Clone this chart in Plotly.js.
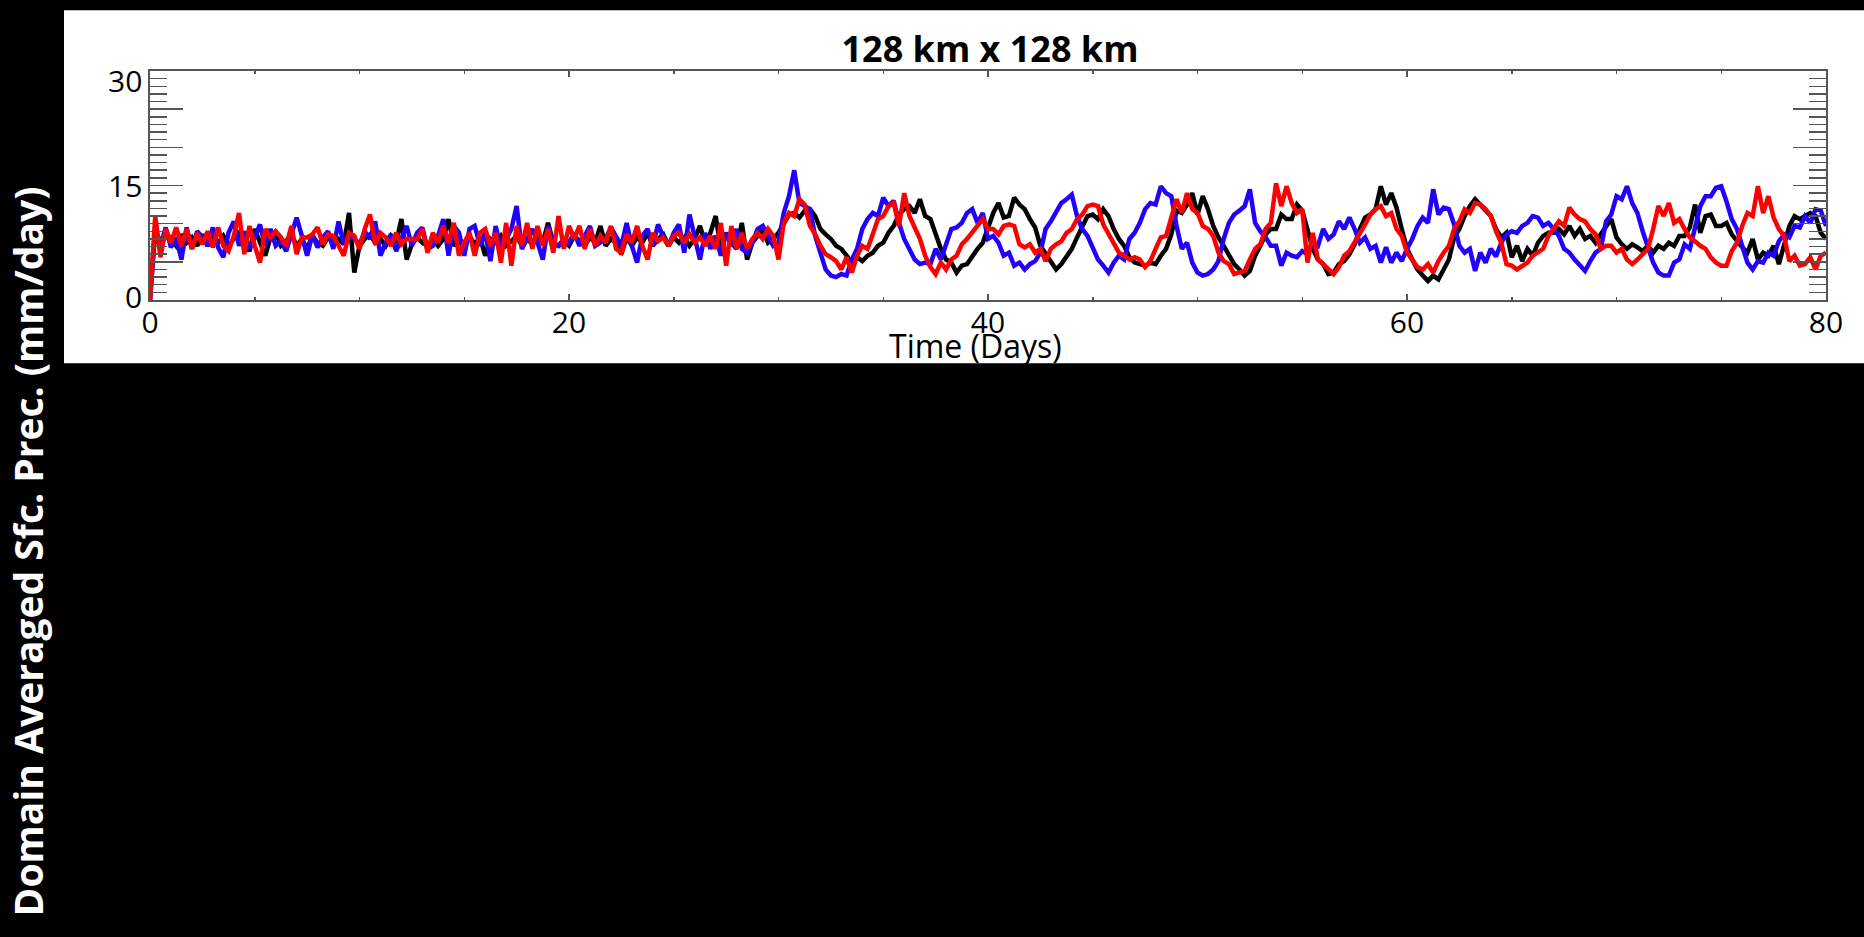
<!DOCTYPE html>
<html>
<head>
<meta charset="utf-8">
<script src="https://cdn.plot.ly/plotly-3.0.1.min.js"></script>
<style>
  html, body { margin: 0; padding: 0; background: #000; }
  #chart { width: 1864px; height: 937px; }
</style>
</head>
<body>
<div id="chart"></div>
<script>
// Sampling step of the series (days)
const STEP_DAYS = 0.25;

// Black run (one row per day: values at d, d+0.25, d+0.5, d+0.75)
const blackPrecip = [
  0, 9.3, 6.7, 8.8,
  8.0, 7.1, 8.6, 7.5,
  8.2, 7.1, 8.6, 7.1,
  8.2, 7.5, 8.4, 7.1,
  8.0, 8.8, 7.7, 6.4,
  9.3, 7.5, 5.8, 8.2,
  8.8, 7.1, 7.7, 8.6,
  7.1, 8.0, 6.7, 8.4,
  7.5, 7.1, 8.2, 7.5,
  8.0, 7.3, 11.4, 3.6,
  7.1, 8.0, 8.6, 7.5,
  8.0, 7.1, 8.4, 7.5,
  10.6, 5.3, 7.3, 8.2,
  7.5, 7.1, 8.0, 7.1,
  8.0, 10.6, 7.1, 8.0,
  6.7, 8.4, 7.3, 8.2,
  5.8, 8.0, 7.5, 8.4,
  7.1, 7.7, 8.4, 7.1,
  8.0, 7.3, 8.2, 7.5,
  10.1, 7.5, 7.1, 7.7,
  7.1, 8.4, 7.7, 7.1,
  8.2, 7.5, 9.7, 7.1,
  8.0, 7.5, 6.0, 8.2,
  7.1, 8.2, 7.5, 8.8,
  7.1, 8.0, 8.6, 7.1,
  8.2, 7.5, 8.2, 7.1,
  8.0, 9.7, 7.5, 8.8,
  11.0, 6.7, 8.8, 7.5,
  6.7, 10.1, 5.3, 7.5,
  8.4, 9.3, 7.5, 8.0,
  8.8, 10.1, 11.2, 11.4,
  10.8, 11.7, 11.9, 11.0,
  9.3, 8.6, 8.0, 7.1,
  6.7, 5.8, 4.9, 5.6,
  5.1, 5.8, 6.2, 7.1,
  7.5, 8.8, 9.7, 11.2,
  11.9, 12.3, 11.4, 13.2,
  11.0, 10.6, 8.6, 6.7,
  5.3, 4.9, 3.6, 4.5,
  4.7, 5.8, 6.7, 7.5,
  9.3, 11.4, 12.7, 10.8,
  11.0, 13.4, 12.5, 11.9,
  10.6, 9.5, 7.1, 6.0,
  5.1, 4.0, 4.7, 5.8,
  6.7, 8.2, 9.7, 11.0,
  11.2, 10.6, 11.9, 11.0,
  9.3, 8.0, 7.1, 5.6,
  4.9, 4.7, 4.5, 4.9,
  4.7, 5.8, 6.7, 8.6,
  11.7, 11.4, 12.5, 14.0,
  11.2, 13.6, 11.9, 9.7,
  8.2, 7.1, 5.8, 4.7,
  4.0, 3.2, 3.8, 5.8,
  7.1, 8.6, 9.3, 9.3,
  11.2, 10.6, 10.6, 12.5,
  11.7, 9.3, 6.7, 5.3,
  4.7, 3.4, 3.6, 4.7,
  5.1, 6.0, 7.3, 9.3,
  10.8, 11.2, 11.9, 14.9,
  12.5, 14.0, 12.1, 9.3,
  6.7, 5.3, 4.0, 3.2,
  2.5, 3.2, 2.7, 4.0,
  5.3, 8.2, 9.3, 11.0,
  12.3, 13.2, 12.5, 11.7,
  11.0, 9.3, 8.2, 8.8,
  5.6, 7.1, 5.1, 6.7,
  5.8, 7.5, 8.4, 8.8,
  8.8, 9.3, 8.6, 9.7,
  8.4, 9.3, 8.0, 8.4,
  7.5, 8.6, 9.7, 10.6,
  8.2, 7.3, 6.7, 7.3,
  6.9, 6.4, 7.1, 6.2,
  7.1, 6.7, 7.5, 7.1,
  8.4, 8.4, 9.5, 12.5,
  8.8, 11.0, 11.2, 9.7,
  9.7, 10.1, 8.6, 7.7,
  6.9, 6.2, 8.0, 5.3,
  6.2, 5.8, 7.1, 4.7,
  7.1, 9.7, 11.0, 10.6,
  11.0, 11.4, 11.0, 8.8,
  8.0
];

// Blue run
const bluePrecip = [
  0, 9.7, 7.1, 9.5,
  6.9, 8.2, 5.3, 9.5,
  6.7, 9.0, 8.2, 7.1,
  9.5, 6.9, 5.6, 8.8,
  10.3, 7.1, 9.0, 6.7,
  8.2, 9.9, 7.1, 9.3,
  7.1, 7.7, 6.4, 8.8,
  10.8, 8.4, 5.8, 8.6,
  6.9, 8.2, 9.0, 6.7,
  10.3, 7.3, 8.4, 8.0,
  7.3, 9.0, 8.0, 10.3,
  5.8, 7.5, 8.6, 6.4,
  8.0, 9.7, 7.1, 8.8,
  9.5, 6.7, 7.1, 8.4,
  10.6, 5.8, 9.7, 8.8,
  5.8, 9.3, 9.7, 7.1,
  8.8, 5.1, 9.7, 6.7,
  8.0, 9.3, 12.3, 6.7,
  8.0, 9.3, 7.5, 5.3,
  9.7, 7.3, 7.1, 8.0,
  7.5, 8.8, 7.1, 8.4,
  9.7, 7.1, 7.5, 8.0,
  9.5, 8.4, 7.1, 10.1,
  7.1, 4.9, 8.4, 9.3,
  7.1, 9.9, 8.2, 7.1,
  8.8, 9.9, 6.2, 11.2,
  8.0, 5.3, 8.8, 6.7,
  8.4, 5.8, 8.8, 7.1,
  9.3, 6.7, 6.2, 7.5,
  9.3, 9.7, 8.4, 7.1,
  7.5, 11.4, 13.6, 17.0,
  12.7, 12.3, 11.9, 8.4,
  6.2, 4.0, 3.2, 3.0,
  3.4, 3.2, 5.3, 6.7,
  9.3, 10.6, 11.4, 11.0,
  13.4, 12.3, 13.0, 10.1,
  8.0, 6.7, 5.3, 4.7,
  4.9, 4.7, 6.7, 5.3,
  7.1, 9.3, 9.5, 10.1,
  11.4, 11.9, 10.1, 11.4,
  8.0, 8.4, 7.5, 5.8,
  6.2, 4.5, 4.9, 4.0,
  4.7, 5.1, 6.2, 9.3,
  10.3, 11.4, 12.7, 13.2,
  13.8, 11.0, 9.3, 8.4,
  6.7, 5.3, 4.5, 3.6,
  4.9, 5.8, 5.3, 8.0,
  8.8, 10.1, 11.9, 12.7,
  12.5, 14.9, 14.0, 13.6,
  9.7, 6.7, 7.5, 4.9,
  3.6, 3.2, 3.4, 4.0,
  5.1, 8.0, 10.1, 11.2,
  11.7, 12.3, 14.5, 10.1,
  9.0, 8.2, 7.1, 7.1,
  4.5, 6.2, 5.8, 5.6,
  6.4, 6.0, 7.5, 7.1,
  9.3, 8.0, 8.6, 10.3,
  9.3, 10.8, 9.3, 7.5,
  8.2, 6.7, 7.1, 4.9,
  6.9, 4.9, 6.2, 5.1,
  6.7, 8.0, 9.7, 10.8,
  10.1, 14.5, 11.2, 12.1,
  11.9, 9.9, 7.1, 6.2,
  6.7, 3.8, 6.2, 4.9,
  6.7, 5.7, 7.5, 8.6,
  9.0, 8.8, 9.7, 10.1,
  11.0, 10.8, 9.7, 10.1,
  9.3, 8.4, 6.7, 6.2,
  5.3, 4.5, 3.8, 5.1,
  6.2, 6.7, 10.3, 11.2,
  13.6, 13.2, 14.9, 12.7,
  11.4, 9.0, 7.1, 4.9,
  3.6, 3.2, 3.2, 4.9,
  5.3, 7.3, 6.7, 9.7,
  12.3, 13.6, 13.6, 14.7,
  14.9, 12.9, 10.6, 9.3,
  7.1, 4.9, 4.0, 5.1,
  4.9, 6.2, 5.8, 7.7,
  8.6, 8.2, 9.7, 9.5,
  11.0, 10.1, 11.9, 11.7,
  9.7
];

// Red run
const redPrecip = [
  0, 11.0, 5.6, 9.3,
  7.5, 9.5, 7.1, 9.3,
  6.7, 8.8, 7.3, 9.0,
  6.9, 9.5, 7.1, 6.4,
  8.4, 11.4, 6.0, 9.7,
  7.1, 4.9, 9.3, 8.2,
  9.0, 8.2, 7.1, 9.7,
  6.0, 8.2, 8.2, 8.6,
  9.5, 7.3, 8.6, 8.4,
  7.1, 5.8, 8.8, 8.4,
  6.7, 9.3, 11.2, 7.3,
  8.8, 8.2, 7.1, 8.8,
  7.3, 8.0, 8.0, 8.0,
  9.3, 6.2, 8.8, 7.5,
  9.7, 7.5, 10.1, 5.8,
  7.5, 8.8, 5.8, 8.8,
  9.3, 7.1, 8.8, 4.9,
  10.1, 4.5, 9.7, 7.1,
  10.1, 6.7, 9.7, 7.1,
  9.3, 6.2, 11.0, 6.7,
  9.7, 8.0, 9.7, 6.7,
  9.3, 7.1, 8.4, 7.5,
  9.7, 6.7, 6.2, 8.6,
  7.5, 9.7, 7.1, 5.3,
  8.8, 7.7, 8.2, 7.1,
  8.4, 8.8, 7.5, 8.6,
  7.5, 8.2, 7.1, 8.4,
  6.7, 10.1, 4.5, 9.7,
  6.7, 8.8, 6.7, 8.0,
  8.8, 8.0, 9.3, 8.4,
  5.3, 10.1, 11.4, 11.0,
  13.2, 12.5, 9.7, 8.6,
  7.1, 6.0, 5.6, 5.1,
  4.0, 5.6, 3.6, 5.8,
  7.1, 6.7, 8.6, 10.6,
  11.0, 12.3, 12.7, 9.7,
  14.0, 11.0, 9.5, 8.0,
  5.8, 4.3, 3.4, 4.9,
  4.0, 5.3, 5.8, 7.3,
  8.0, 8.8, 9.7, 10.6,
  9.3, 9.3, 8.6, 9.7,
  9.9, 9.7, 7.3, 6.9,
  7.3, 6.2, 6.7, 5.1,
  6.7, 7.3, 7.7, 8.8,
  9.3, 10.6, 11.2, 12.3,
  12.5, 12.3, 9.9, 8.6,
  7.5, 6.2, 5.8, 5.3,
  5.6, 5.3, 4.3, 5.1,
  6.7, 8.2, 8.4, 11.0,
  13.2, 11.4, 14.0, 11.9,
  11.4, 9.7, 9.3, 8.4,
  6.2, 5.1, 4.7, 3.4,
  3.6, 3.8, 5.3, 6.7,
  7.3, 9.3, 10.1, 15.3,
  12.3, 14.9, 12.7, 11.4,
  11.9, 4.9, 8.8, 5.3,
  4.7, 4.0, 3.4, 4.3,
  5.8, 6.4, 7.5, 8.8,
  9.9, 11.2, 11.9, 12.3,
  11.0, 11.4, 9.3, 8.4,
  6.2, 5.3, 4.3, 4.0,
  4.7, 3.6, 5.1, 6.2,
  7.1, 9.3, 10.3, 11.9,
  11.4, 12.7, 12.5, 11.9,
  11.0, 9.0, 7.5, 4.7,
  4.5, 4.0, 4.5, 4.9,
  5.8, 6.2, 6.7, 8.4,
  9.3, 10.3, 9.7, 12.1,
  11.2, 10.6, 10.3, 9.3,
  8.6, 6.7, 7.1, 7.1,
  6.2, 6.7, 5.3, 4.7,
  5.3, 6.0, 6.7, 9.3,
  12.3, 11.0, 12.7, 10.1,
  10.6, 9.3, 8.2, 7.7,
  7.1, 6.7, 5.6, 4.9,
  4.5, 4.5, 6.4, 7.5,
  9.7, 11.4, 11.0, 14.9,
  11.4, 13.6, 10.8, 9.3,
  8.4, 5.1, 5.8, 4.5,
  4.7, 5.6, 4.0, 5.8,
  6.2
];

const xTickVals = [0, 20, 40, 60, 80];
const xTickText = ['0', '20', '40', '60', '80'];
const yTickVals = [0, 5, 10, 15, 20, 25, 30];
const yLabelVals = [0, 15, 30];
const yLabelText = ['0', '15', '30'];
const yLabelShift = [3.5, 0, -9.5];

const timeDays = blackPrecip.map((_, i) => i * STEP_DAYS);

function lineTrace(y, color) {
  return {
    x: timeDays, y: y, type: 'scatter', mode: 'lines',
    line: { color: color, width: 4.5 },
    hoverinfo: 'skip', showlegend: false
  };
}

const data = [
  lineTrace(blackPrecip, '#000000'),
  lineTrace(bluePrecip, '#2200ff'),
  lineTrace(redPrecip, '#ff0000')
];

const axisColor = '#555555';
const FONT = '"Open Sans", "DejaVu Sans", sans-serif';

const yLabelAnnotations = yLabelVals.map((v, i) => ({
  text: yLabelText[i], showarrow: false,
  xref: 'paper', yref: 'y',
  x: (144 - 150) / 1676, y: v,
  xanchor: 'right', yanchor: 'middle', yshift: yLabelShift[i],
  font: { family: FONT, size: 30, color: '#000000' }
}));

const layout = {
  width: 1864, height: 937,
  paper_bgcolor: '#000000',
  plot_bgcolor: '#ffffff',
  margin: { l: 150, r: 38, t: 71, b: 636.5, pad: 0 },
  showlegend: false,
  font: { family: FONT, color: '#000000', size: 30 },
  title: {
    text: '<b>128 km x 128 km</b>',
    font: { family: FONT, size: 36, color: '#000000' },
    xref: 'paper', x: 0.5012, xanchor: 'center',
    yref: 'container', y: 1 - 49 / 937, yanchor: 'middle'
  },
  xaxis: {
    range: [0, 80], autorange: false,
    tickmode: 'array', tickvals: xTickVals, ticktext: xTickText,
    ticks: 'inside', ticklen: 6, tickwidth: 1.5, tickcolor: axisColor,
    ticklabelstandoff: -5,
    minor: { tickmode: 'linear', tick0: 0, dtick: 5, ticks: 'inside', ticklen: 3, tickwidth: 1.5, tickcolor: axisColor },
    showline: true, linecolor: axisColor, linewidth: 2, mirror: 'ticks',
    showgrid: false, zeroline: false,
    tickfont: { family: FONT, size: 30, color: '#000000' },
    fixedrange: true
  },
  yaxis: {
    range: [0, 30], autorange: false,
    tickmode: 'array', tickvals: yTickVals,
    showticklabels: false,
    ticks: 'inside', ticklen: 33, tickwidth: 1.5, tickcolor: axisColor,
    minor: { tickmode: 'linear', tick0: 0, dtick: 1, ticks: 'inside', ticklen: 17, tickwidth: 1.5, tickcolor: axisColor },
    showline: true, linecolor: axisColor, linewidth: 2, mirror: 'ticks',
    showgrid: false, zeroline: false,
    fixedrange: true
  },
  shapes: [
    {
      type: 'rect', xref: 'paper', yref: 'paper', layer: 'below',
      x0: (64 - 150) / 1676, x1: (1864 - 150) / 1676,
      y0: (300.5 - 364) / 229.5, y1: (300.5 - 10) / 229.5,
      fillcolor: '#ffffff', line: { width: 0 }
    }
  ],
  annotations: yLabelAnnotations.concat([
    {
      text: 'Time (Days)', showarrow: false,
      xref: 'paper', yref: 'paper',
      x: (975 - 150) / 1676, y: (300.5 - 346) / 229.5,
      xanchor: 'center', yanchor: 'middle',
      font: { family: FONT, size: 32, color: '#000000' }
    },
    {
      text: '<b>Domain Averaged Sfc. Prec. (mm/day)</b>', showarrow: false,
      textangle: -90,
      xref: 'paper', yref: 'paper',
      x: (27.5 - 150) / 1676, y: (300.5 - 553) / 229.5,
      xanchor: 'center', yanchor: 'middle',
      font: { family: FONT, size: 39, color: '#ffffff' }
    }
  ])
};

Plotly.newPlot('chart', data, layout, { displayModeBar: false, staticPlot: true });
</script>
</body>
</html>
